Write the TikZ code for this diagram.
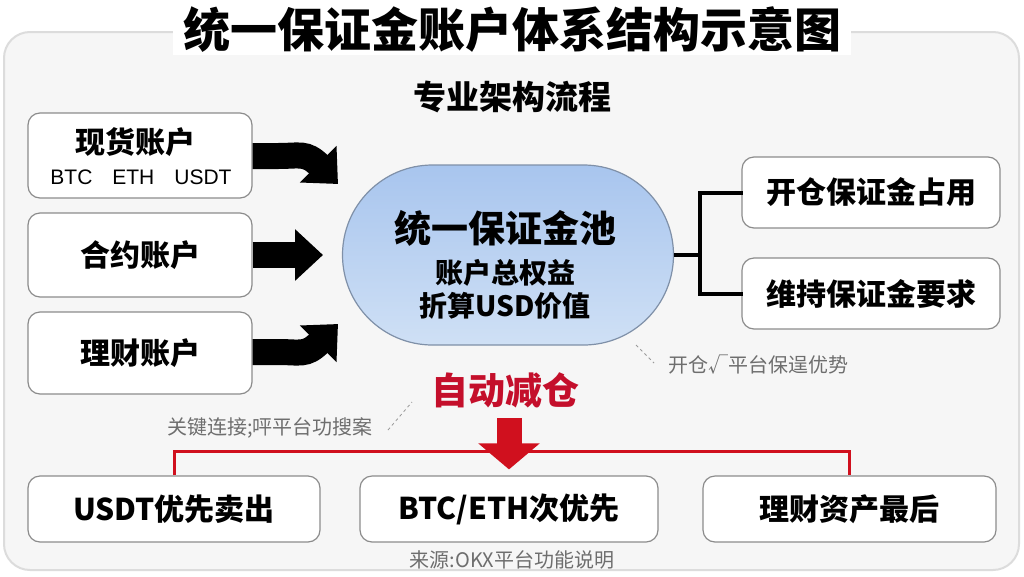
\documentclass[tikz,border=0pt]{standalone}
\usepackage{fontspec}
\setmainfont{Noto Sans CJK SC}
\newfontfamily\lat{Liberation Sans}
\usetikzlibrary{arrows.meta,calc}
\definecolor{panelbg}{HTML}{F6F6F6}
\definecolor{panelline}{HTML}{DCDCDC}
\definecolor{boxline}{HTML}{8C8C8C}
\definecolor{poolline}{HTML}{7F90A8}
\definecolor{pooltop}{HTML}{A8C5EE}
\definecolor{poolbot}{HTML}{CFE0F5}
\definecolor{redc}{HTML}{D0101E}
\definecolor{darkred}{HTML}{C40F2B}
\definecolor{graytxt}{HTML}{6E6E6E}
\newcommand{\fs}[1]{\fontsize{#1}{#1}\selectfont}
\begin{document}
\begin{tikzpicture}[x=1pt,y=-1pt,
  box/.style={draw=boxline, fill=white, line width=1.2pt, rounded corners=12pt, inner sep=0pt, align=center},
  boxtxt/.style={font=\fs{30}\bfseries},
  bigarrow/.style={line width=26pt, -{Triangle[length=28pt,width=50pt]}},
  conn/.style={line width=4pt, black},
  redline/.style={line width=3pt, redc},
  note/.style={text=graytxt, font=\fs{20}, inner sep=0pt},
  dashnote/.style={graytxt!70, dashed, line width=0.8pt}]
\useasboundingbox (0,0) rectangle (1024,576);
\fill[white] (0,0) rectangle (1024,576);
% panel
\draw[fill=panelbg, draw=panelline, line width=2pt, rounded corners=26pt] (4,32) rectangle (1019,570);
% title
\node[fill=white, inner xsep=10pt, inner ysep=2pt, font=\fs{47}\bfseries] (title) at (512,30) {统一保证金账户体系结构示意图};
\node[font=\fs{33}\bfseries] (sub) at (512,97) {专业架构流程};
% left boxes
\node[box, minimum width=224pt, minimum height=85pt] (spot) at (140,155.5) {};
\node[font=\fs{30}\bfseries] (spotT) at (135,142) {现货账户};
\node[font=\fs{21}\lat] (spotC) at (141,177) {BTC\hspace{20pt}ETH\hspace{20pt}USDT};
\node[box, boxtxt, minimum width=224pt, minimum height=84pt] (fut) at (140,255) {合约账户};
\node[box, boxtxt, minimum width=224pt, minimum height=82pt] (fin) at (140,353) {理财账户};
% pool
\node[draw=poolline, line width=1.2pt, top color=pooltop, bottom color=poolbot, rounded corners=90pt,
      minimum width=331pt, minimum height=180pt, inner sep=0pt] (pool) at (508,255) {};
\node[font=\fs{37}\bfseries] (poolT) at (505,228) {统一保证金池};
\node[font=\fs{28}\bfseries] (poolA) at (505,273) {账户总权益};
\node[font=\fs{28}\bfseries] (poolB) at (505,306) {折算USD价值};
% arrows into pool
\coordinate (a1) at (338,184);
\coordinate (a3) at (338,324);
\draw[bigarrow] (spot.east |- 0,156) -- (278,156) .. controls (300,156) and (306,152) .. (a1);
\draw[bigarrow] (fut.east) -- (pool.west -| 323,0);
\draw[bigarrow] (fin.east |- 0,352) -- (278,352) .. controls (300,352) and (306,356) .. (a3);
% right boxes
\node[box, boxtxt, minimum width=258pt, minimum height=71pt] (open) at (871,192.5) {开仓保证金占用};
\node[box, boxtxt, minimum width=258pt, minimum height=71pt] (maint) at (871,293.5) {维持保证金要求};
\coordinate (jn) at (700,255);
\draw[conn] (pool.east) -- (jn);
\draw[conn, line cap=rect] (open.west) -| (jn) |- (maint.west);
% notes
\node[note, anchor=west] (n1) at (668,365) {开仓√平台保逞优势};
\coordinate (d1a) at (636,345);
\draw[dashnote] (d1a) -- ($(n1.west)+(-14,-2)$);
\node[note, anchor=east] (n2) at (373,428) {关键连接;呯平台功搜案};
\coordinate (d2b) at (412,402);
\draw[dashnote] ($(n2.east)+(15,2)$) -- (d2b);
% auto deleveraging
\node[font=\fs{37}\bfseries, text=darkred] (auto) at (505,390) {自动减仓};
% bottom boxes
\node[box, boxtxt, minimum width=292pt, minimum height=66pt] (b1) at (174,509) {USDT优先卖出};
\node[box, boxtxt, minimum width=298pt, minimum height=66pt] (b2) at (509,509) {BTC/ETH次优先};
\node[box, boxtxt, minimum width=293pt, minimum height=66pt] (b3) at (849.5,509) {理财资产最后};
\draw[redline] (b1.north) -- ++(0,-24) -| (b3.north);
\draw[redc, line width=25pt, -{Triangle[length=26pt,width=60pt]}] (b2.north |- 0,418) -- ($(b2.north)+(0,-6)$);
\node[note] (src) at (512,560) {来源:OKX平台功能说明};
\end{tikzpicture}
\end{document}
